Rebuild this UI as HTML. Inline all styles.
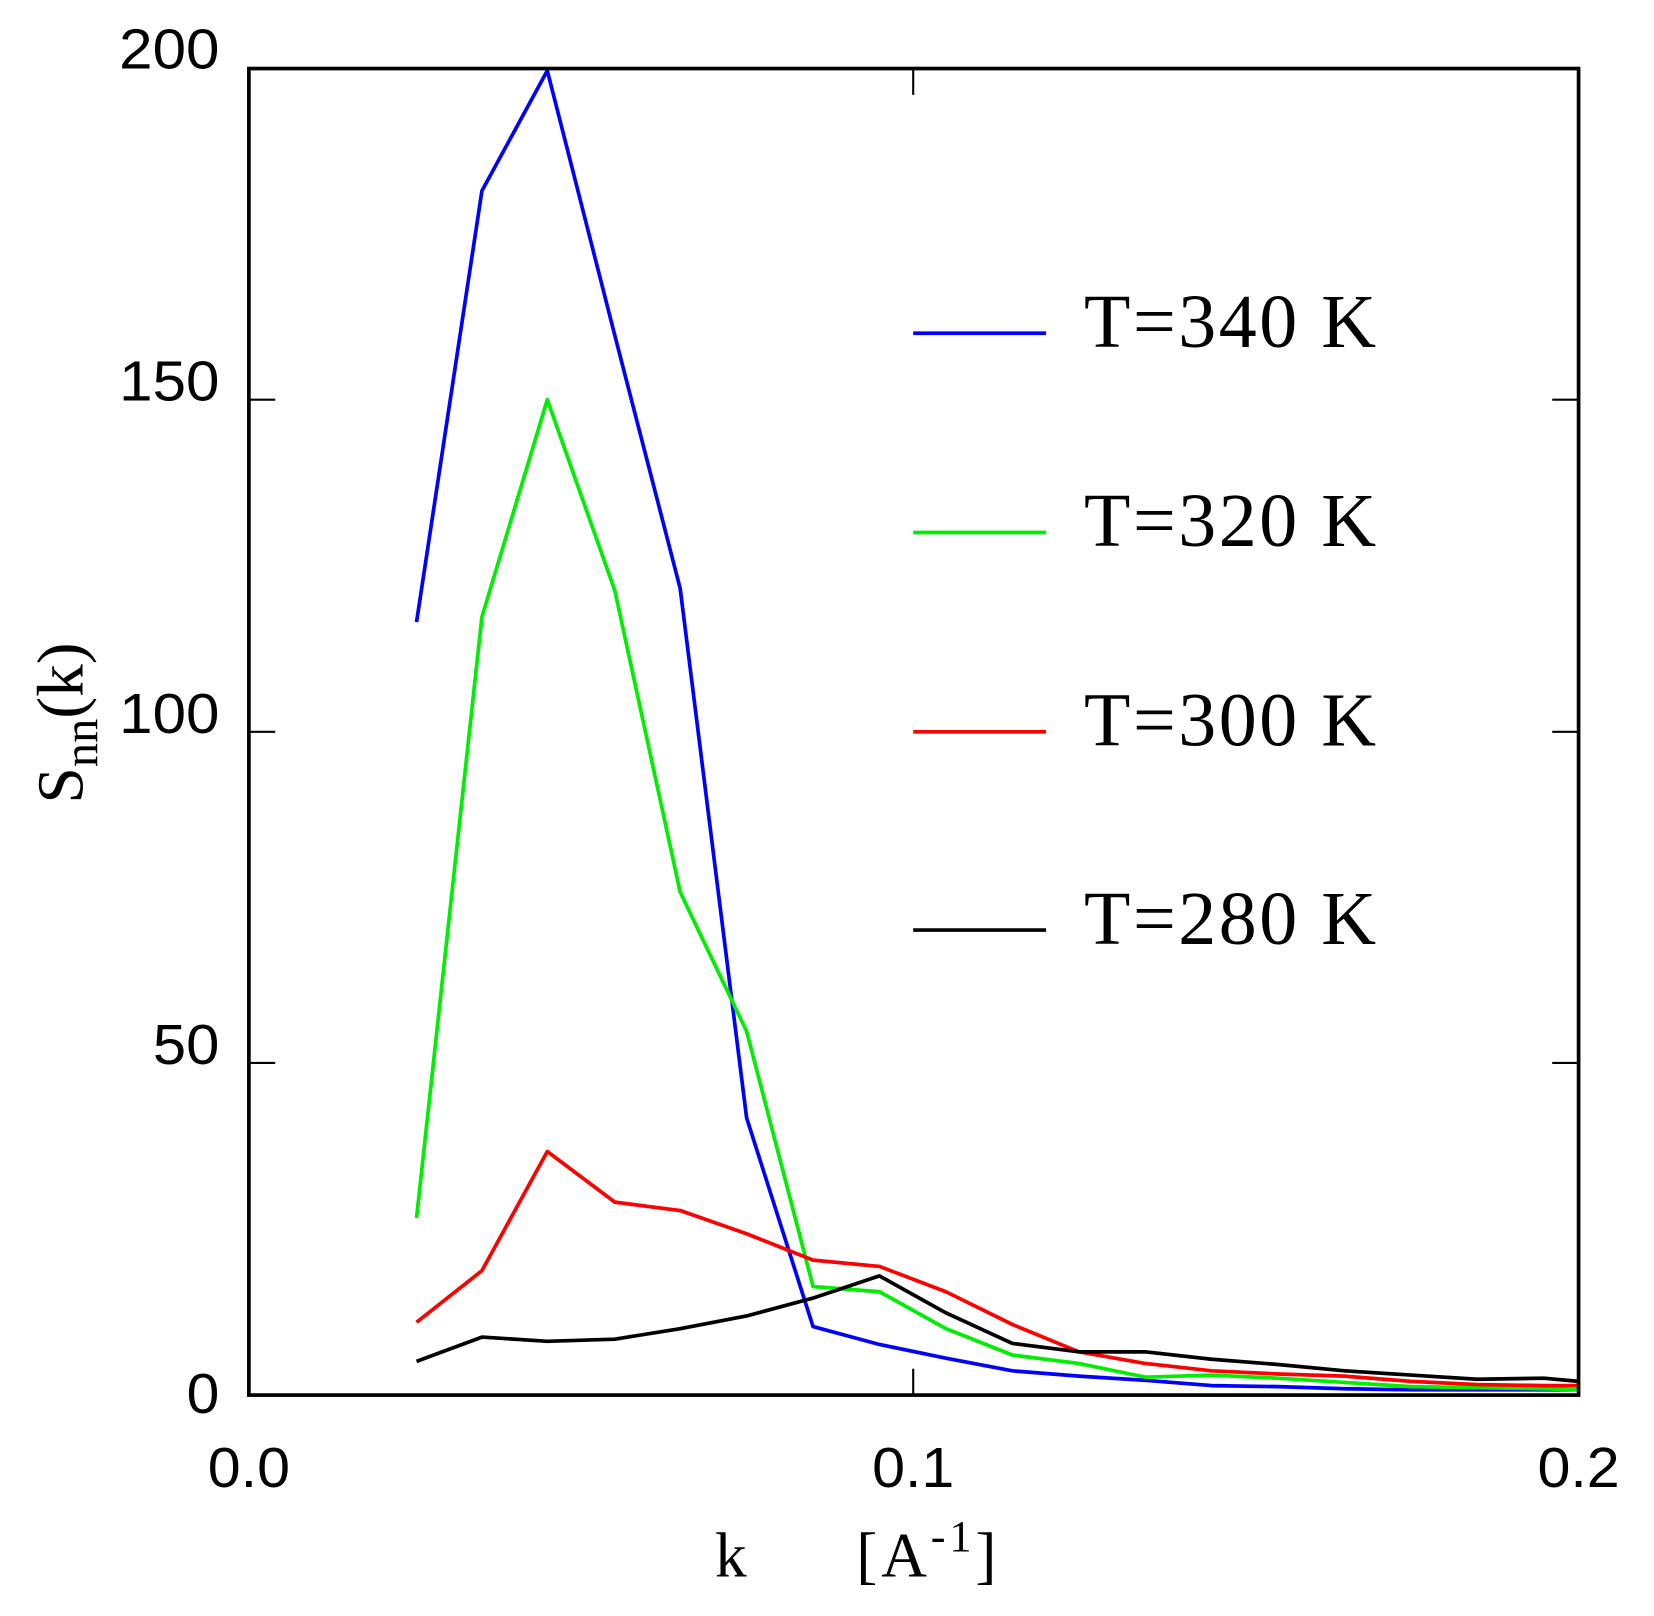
<!DOCTYPE html>
<html><head><style>
html,body{margin:0;padding:0;background:#fff;}
svg{display:block;}
</style></head><body>
<svg width="1654" height="1616" viewBox="0 0 1568.5 1532.5" xmlns="http://www.w3.org/2000/svg">
<rect x="0" y="0" width="1568.5" height="1532.5" fill="#fff"/>
<g fill="none" stroke-width="3.5" stroke-linejoin="round">
<polyline stroke="#0000ff" points="395,590 457,181 519,67 583,318 645,558 708,1060 771,1258 834,1275 897,1288 960,1300 1023,1305 1086,1309 1149,1314 1212,1315 1275,1317 1338,1318 1401,1318 1464,1318 1497,1318"/>
<polyline stroke="#00ee00" points="395,1155 457,585 519,379 583,560 645,846 708,978 771,1220 834,1225 897,1260 960,1285 1023,1293 1086,1306 1149,1304 1212,1307 1275,1311 1338,1315 1401,1316 1464,1317 1497,1318"/>
<polyline stroke="#ff0000" points="395,1254 457,1205 519,1092 583,1140 645,1148 708,1170 771,1195 834,1201 897,1225 960,1256 1023,1282 1086,1293 1149,1300 1212,1303 1275,1305 1338,1310 1401,1313 1464,1314 1497,1314"/>
<polyline stroke="#000000" points="395,1291 457,1268 519,1272 583,1270 645,1260 708,1248 771,1231 834,1210 897,1245 960,1274 1023,1282 1086,1282 1149,1289 1212,1294 1275,1300 1338,1304 1401,1308 1464,1307 1497,1310"/>
</g>
<rect x="236" y="65" width="1261" height="1258" fill="none" stroke="#000" stroke-width="3.5"/>
<g stroke="#000" stroke-width="2">
<line x1="236" y1="379" x2="261" y2="379"/><line x1="236" y1="694" x2="261" y2="694"/><line x1="236" y1="1008" x2="261" y2="1008"/>
<line x1="1472" y1="379" x2="1497" y2="379"/><line x1="1472" y1="694" x2="1497" y2="694"/><line x1="1472" y1="1008" x2="1497" y2="1008"/>
<line x1="866" y1="65" x2="866" y2="90"/><line x1="866" y1="1298" x2="866" y2="1323"/>
</g>
<g font-family="Liberation Sans, sans-serif" font-size="54" fill="#000">
<text x="208" y="65" text-anchor="end" textLength="95" lengthAdjust="spacingAndGlyphs">200</text>
<text x="208" y="380" text-anchor="end" textLength="95" lengthAdjust="spacingAndGlyphs">150</text>
<text x="208" y="695" text-anchor="end" textLength="95" lengthAdjust="spacingAndGlyphs">100</text>
<text x="208" y="1009" text-anchor="end" textLength="63" lengthAdjust="spacingAndGlyphs">50</text>
<text x="208" y="1340" text-anchor="end" textLength="31" lengthAdjust="spacingAndGlyphs">0</text>
<text x="236" y="1410" text-anchor="middle" textLength="78" lengthAdjust="spacingAndGlyphs">0.0</text>
<text x="866" y="1410" text-anchor="middle" textLength="78" lengthAdjust="spacingAndGlyphs">0.1</text>
<text x="1497" y="1410" text-anchor="middle" textLength="78" lengthAdjust="spacingAndGlyphs">0.2</text>
</g>
<g stroke-width="3.5">
<line x1="866" y1="316" x2="992" y2="316" stroke="#0000ff"/>
<line x1="866" y1="505" x2="992" y2="505" stroke="#00ee00"/>
<line x1="866" y1="694" x2="992" y2="694" stroke="#ff0000"/>
<line x1="866" y1="882" x2="992" y2="882" stroke="#000"/>
</g>
<g font-family="Liberation Serif, serif" font-size="72" fill="#000">
<text x="1028" y="329" textLength="277">T=340 K</text>
<text x="1028" y="518" textLength="277">T=320 K</text>
<text x="1028" y="707" textLength="277">T=300 K</text>
<text x="1028" y="895" textLength="277">T=280 K</text>
</g>
<g font-family="Liberation Serif, serif" font-size="60" fill="#000">
<text x="678" y="1495">k</text>
<text x="812" y="1495" textLength="133">[A<tspan font-size="42" dy="-24">-1</tspan><tspan dy="24">]</tspan></text>
<text transform="translate(78,762) rotate(-90)" font-size="62">S<tspan font-size="46" dy="14">nn</tspan><tspan dy="-14">(k)</tspan></text>
</g>
</svg>
</body></html>
